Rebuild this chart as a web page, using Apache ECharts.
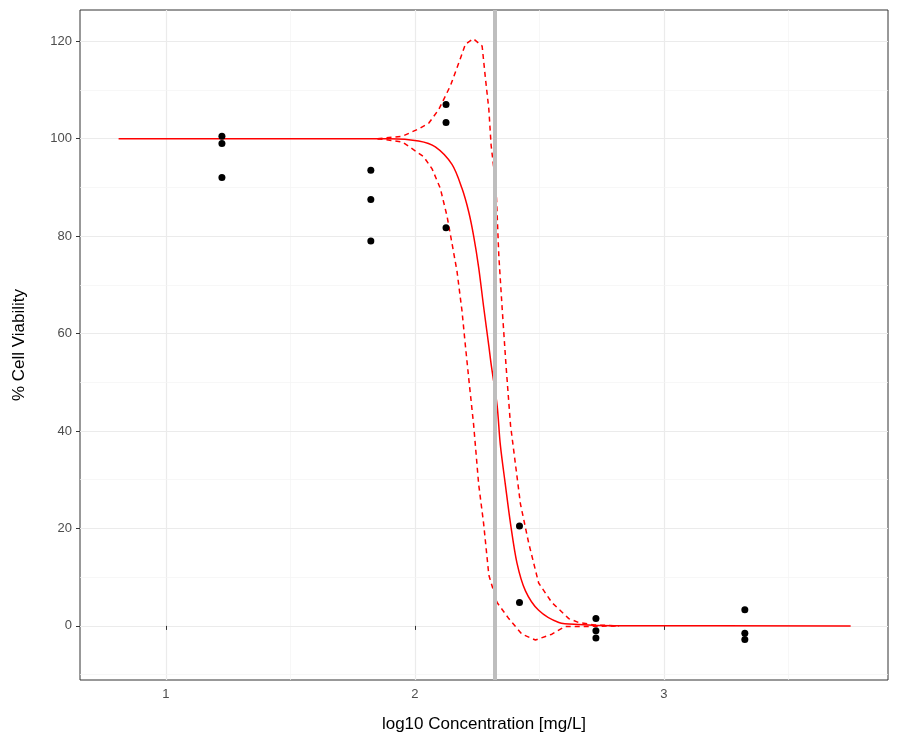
<!DOCTYPE html>
<html>
<head>
<meta charset="utf-8">
<script src="https://cdn.jsdelivr.net/npm/echarts@6/dist/echarts.min.js"></script>
<style>html,body{margin:0;padding:0;background:#fff}#main{width:900px;height:750px}</style>
</head>
<body>
<div id="main"></div>
<script>
// observed data
var obsX = [1.225,1.225,1.225, 1.823,1.823,1.823, 2.125,2.125,2.125, 2.42,2.42, 2.727,2.727,2.727, 3.325,3.325,3.325];
var obsY = [100.5,99,92, 93.5,87.5,79, 107,103.3,81.7, 20.5,4.8, 1.5,-1,-2.5, 3.3,-1.5,-2.8];

// fitted curve
var fitX = [0.81,1.9,2.015,2.082,2.149,2.189,2.216,2.236,2.256,2.276,2.297,2.307,2.33,2.343,2.363,2.384,2.41,2.444,2.497,2.578,2.658,2.8,3.75];
var fitY = [100,100,99.5,98.3,94.7,89.8,85,80,73.6,65.5,57.4,53.4,45.3,37.2,29.1,21,12.9,7.2,3.2,0.7,0.3,0.05,0];

// upper confidence band
var upX = [1.85,1.95,2.015,2.056,2.096,2.143,2.183,2.203,2.235,2.27,2.283,2.297,2.306,2.326,2.337,2.35,2.366,2.384,2.404,2.424,2.457,2.497,2.55,2.618,2.658,2.72,2.82];
var upY = [100,100.5,102,103.2,106,110.9,116.5,119.4,120.5,119,112.5,106,98.7,89.8,76,65.5,53.4,41.2,33.1,25,17,8.8,4.8,1.5,0.7,0.2,0];

// lower confidence band
var loX = [1.85,1.95,2.035,2.069,2.102,2.129,2.149,2.169,2.189,2.203,2.216,2.236,2.256,2.276,2.297,2.3,2.33,2.377,2.43,2.484,2.55,2.604,2.7,2.82];
var loY = [100,99.3,96.3,93.8,89.8,84.1,78.5,72.8,64.7,57.4,50.9,41.2,29.1,21,10.4,10,4.8,1.5,-1.7,-2.9,-1.7,-0.1,-0.1,0];

var ec50 = 2.32;
var xTicks = [1,2,3];
var xGrid = [1,1.5,2,2.5,3,3.5];
var yTicks = [0,20,40,60,80,100,120];
var yGrid = [-10,0,10,20,30,40,50,60,70,80,90,100,110,120];

function zip(a,b){ return a.map(function(v,i){ return [v,b[i]]; }); }

var gridLines = xGrid.map(function(v){
  return {xAxis:v, lineStyle:{type:'solid',color: v%1===0 ? '#ebebeb' : '#f4f4f4', width: v%1===0 ? 1.2 : 0.7}};
}).concat(yGrid.map(function(v){
  return {yAxis:v, lineStyle:{type:'solid',color: v%20===0 ? '#ebebeb' : '#f4f4f4', width: v%20===0 ? 1.2 : 0.7}};
}));

var chart = echarts.init(document.getElementById('main'));
chart.setOption({
  animation:false,
  grid:{left:80,right:12,top:10,bottom:70,show:true,borderColor:'#333',borderWidth:1,backgroundColor:'#fff'},
  xAxis:{type:'value',min:0.655,max:3.9,
    name:'log10 Concentration [mg/L]',nameLocation:'middle',nameGap:36,
    nameTextStyle:{fontFamily:'Liberation Sans',fontSize:17,color:'#000'},
    axisLine:{show:false},splitLine:{show:false},
    axisTick:{show:true,length:4,lineStyle:{color:'#333'},customValues:xTicks},
    axisLabel:{customValues:xTicks,fontFamily:'Liberation Sans',fontSize:13,color:'#4d4d4d',margin:8}},
  yAxis:{type:'value',min:-11.1,max:126.4,
    name:'% Cell Viability',nameLocation:'middle',nameGap:52,
    nameTextStyle:{fontFamily:'Liberation Sans',fontSize:17,color:'#000'},
    axisLine:{show:false},splitLine:{show:false},
    axisTick:{show:true,length:4,lineStyle:{color:'#333'},customValues:yTicks},
    axisLabel:{customValues:yTicks,fontFamily:'Liberation Sans',fontSize:13,color:'#4d4d4d',margin:8}},
  series:[
    {type:'line',data:[],z:0,silent:true,
     markLine:{symbol:'none',silent:true,z:0,label:{show:false},data:gridLines}},
    {type:'line',data:zip(upX,upY),showSymbol:false,z:3,
     lineStyle:{color:'#ff0000',width:1.5,type:[5,4]}},
    {type:'line',data:zip(loX,loY),showSymbol:false,z:3,
     lineStyle:{color:'#ff0000',width:1.5,type:[5,4]}},
    {type:'line',data:zip(fitX,fitY),showSymbol:false,smooth:0.3,z:4,
     lineStyle:{color:'#ff0000',width:1.5,type:'solid'}},
    {type:'scatter',data:zip(obsX,obsY),symbolSize:7,z:5,itemStyle:{color:'#000',opacity:1}},
    {type:'line',data:[],z:6,silent:true,
     markLine:{symbol:'none',silent:true,label:{show:false},
       lineStyle:{color:'#bebebe',width:4,type:'solid'},data:[{xAxis:ec50}]}}
  ]
});
</script>
</body>
</html>
